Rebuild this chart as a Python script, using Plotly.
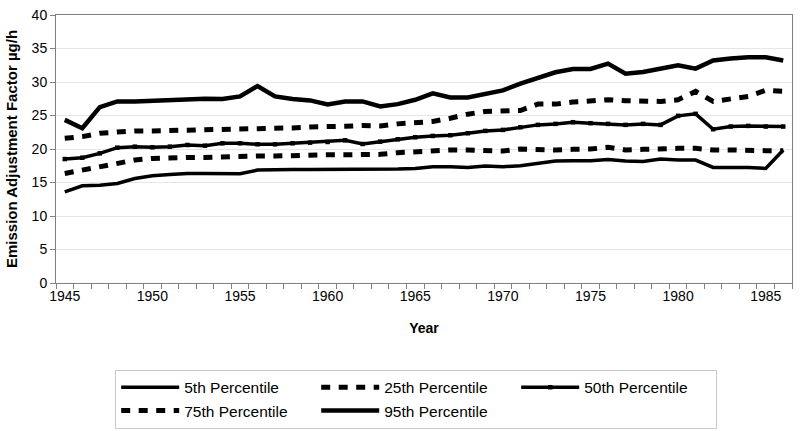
import plotly.graph_objects as go

years = list(range(1945, 1987))

p5 = [13.6, 14.5, 14.6, 14.85, 15.6, 16.0, 16.2, 16.35, 16.35,
      16.3, 16.3, 16.85, 16.95, 16.95, 16.95, 16.95, 16.95,
      16.95, 16.95, 17.0, 17.1, 17.35, 17.35, 17.25, 17.45,
      17.35, 17.5, 17.85, 18.2, 18.25, 18.25, 18.45, 18.2, 18.15,
      18.5, 18.35, 18.35, 17.25, 17.25, 17.25, 17.1, 19.85]

p25 = [16.35, 16.85, 17.35, 17.95, 18.35, 18.6, 18.75, 18.75, 18.75,
       18.85, 18.95, 18.95, 18.95, 19.05, 19.05, 19.15, 19.15,
       19.2, 19.2, 19.45, 19.6, 19.75, 19.85, 19.85, 19.85,
       19.7, 20.0, 19.85, 19.85, 19.95, 20.0, 20.25, 19.85, 19.95,
       20.1, 20.1, 20.1, 19.85, 19.85, 19.75, 19.75, 19.75]

p50 = [18.5, 18.7, 19.35, 20.2, 20.35, 20.25, 20.35, 20.6, 20.5,
       20.85, 20.85, 20.7, 20.7, 20.85, 20.95, 21.05, 21.3,
       20.75, 21.1, 21.45, 21.75, 21.95, 22.05, 22.35, 22.7,
       22.85, 23.25, 23.6, 23.75, 24.0, 23.85, 23.75, 23.6, 23.75,
       23.6, 24.95, 25.25, 22.95, 23.35, 23.45, 23.35, 23.35]

p75 = [21.6, 21.85, 22.35, 22.6, 22.7, 22.7, 22.75, 22.75, 22.8,
       22.85, 22.95, 23.05, 23.0, 23.15, 23.3, 23.3, 23.4,
       23.5, 23.45, 23.75, 23.95, 24.1, 24.6, 25.2, 25.6,
       25.7, 25.75, 26.7, 26.7, 27.0, 27.1, 27.35, 27.2, 27.2,
       27.1, 27.35, 28.6, 27.1, 27.45, 27.85, 28.75, 28.6]

p95 = [24.35, 23.1, 26.25, 27.1, 27.1, 27.2, 27.35, 27.5, 27.5, 27.45,
       27.85, 29.4, 27.85, 27.45, 27.25, 26.65, 27.1, 27.1, 26.35, 26.7,
       27.35, 28.3, 27.7, 27.7, 28.25, 28.75, 29.75, 30.6, 31.45, 31.95,
       31.95, 32.75, 31.25, 31.5, 32.0, 32.5, 32.0, 33.2, 33.5, 33.7,
       33.7, 33.2]

x_tick_labels = [1945, 1950, 1955, 1960, 1965, 1970, 1975, 1980, 1985]
y_ticks = [0, 5, 10, 15, 20, 25, 30, 35, 40]

FONT = "Liberation Sans, Arial, sans-serif"
DASH = "9px,8.5px"

fig = go.Figure()
fig.add_trace(go.Scatter(x=years, y=p5, mode="lines", name="5th Percentile",
                         line=dict(color="black", width=3.5)))
fig.add_trace(go.Scatter(x=years, y=p25, mode="lines", name="25th Percentile",
                         line=dict(color="black", width=5, dash=DASH)))
fig.add_trace(go.Scatter(x=years, y=p50, mode="lines+markers", name="50th Percentile",
                         line=dict(color="black", width=3.5),
                         marker=dict(symbol="square", size=4.5, color="black")))
fig.add_trace(go.Scatter(x=years, y=p75, mode="lines", name="75th Percentile",
                         line=dict(color="black", width=5, dash=DASH)))
fig.add_trace(go.Scatter(x=years, y=p95, mode="lines", name="95th Percentile",
                         line=dict(color="black", width=4.5)))

fig.update_layout(
    width=800, height=431,
    margin=dict(l=56, r=8, t=15, b=148, autoexpand=False),
    paper_bgcolor="white", plot_bgcolor="white",
    font=dict(family=FONT, size=14, color="black"),
    showlegend=True,
    legend=dict(
        orientation="h",
        xref="container", yref="container",
        x=0.144, xanchor="left",
        y=0.142, yanchor="top",
        bordercolor="#c8c8c8", borderwidth=1,
        font=dict(family=FONT, size=15.5, color="black"),
        itemwidth=58,
        entrywidth=127, entrywidthmode="pixels",
        tracegroupgap=0,
    ),
    xaxis=dict(
        range=[1944.5, 1986.5],
        automargin=False,
        tickmode="array", tickvals=x_tick_labels,
        ticktext=[str(v) for v in x_tick_labels],
        ticks="", showgrid=False,
        showline=True, linecolor="#808080", linewidth=1, mirror=True,
        minor=dict(ticks="outside", tick0=1944.5, dtick=1, ticklen=5,
                   tickcolor="#808080", showgrid=False),
        title=dict(text="<b>Year</b>", font=dict(size=14), standoff=20),
        tickfont=dict(size=14),
        zeroline=False,
    ),
    yaxis=dict(
        range=[0, 40],
        automargin=False,
        tickmode="array", tickvals=y_ticks,
        ticks="outside", ticklen=5, tickcolor="#808080",
        showgrid=True, gridcolor="#e6e6e6", gridwidth=1,
        showline=True, linecolor="#808080", linewidth=1, mirror=True,
        title=dict(text="<b>Emission Adjustment Factor µg/h</b>", font=dict(size=15), standoff=10),
        tickfont=dict(size=14),
        zeroline=False,
    ),
)

fig.write_html("out.html", config={"displayModeBar": False},
               post_script="document.body.style.margin='0';")
